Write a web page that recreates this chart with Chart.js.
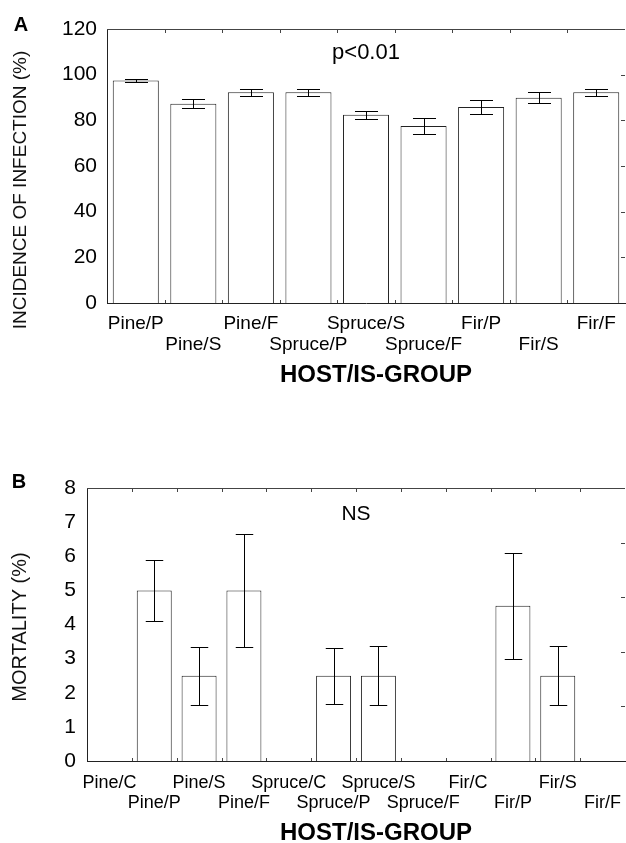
<!DOCTYPE html>
<html>
<head>
<meta charset="utf-8">
<script src="https://cdn.jsdelivr.net/npm/chart.js@4.4.1/dist/chart.umd.min.js"></script>
<style>
  html, body { margin:0; padding:0; background:#fff; overflow:hidden; }
  .panel { position:absolute; left:0; width:626px; height:400px; }
  #boxA { top:0; }
  #boxB { top:455px; }
</style>
</head>
<body>
<div class="panel" id="boxA"><canvas id="chartA"></canvas></div>
<div class="panel" id="boxB"><canvas id="chartB"></canvas></div>
<script>
// panel A: incidence of infection
var groupsA = ["Pine/P", "Pine/S", "Pine/F", "Spruce/P", "Spruce/S", "Spruce/F", "Fir/P", "Fir/S", "Fir/F"];
var incidence = [97.5, 87.3, 92.3, 92.3, 82.5, 77.5, 85.8, 89.9, 92.3];
var incidenceErr = [0.8, 2.1, 1.5, 1.5, 1.7, 3.4, 3.0, 2.5, 1.5];
var yTicksA = [0, 120, 20]; // min, max, step

// panel B: mortality
var groupsB = ["Pine/C", "Pine/P", "Pine/S", "Pine/F", "Spruce/C", "Spruce/P", "Spruce/S", "Spruce/F", "Fir/C", "Fir/P", "Fir/S", "Fir/F"];
var mortality = [0, 5.0, 2.5, 5.0, 0, 2.5, 2.5, 0, 0, 4.55, 2.5, 0];
var mortalityErr = [0, 0.9, 0.85, 1.65, 0, 0.82, 0.87, 0, 0, 1.55, 0.87, 0];
var yTicksB = [0, 8, 1];

var FONT = "'Liberation Sans', Arial, Helvetica, sans-serif";
var INK = "#222";

// error bars, drawn from each bar element
var errorBars = {
  id: 'errorBars',
  afterDatasetsDraw: function(chart) {
    var ctx = chart.ctx, y = chart.scales.y;
    var ds = chart.data.datasets[0];
    var bars = chart.getDatasetMeta(0).data;
    ctx.save();
    ctx.strokeStyle = "#000";
    ctx.lineWidth = 1;
    for (var i = 0; i < bars.length; i++) {
      var e = ds.errors[i];
      if (!e) continue;
      var v = ds.data[i];
      var x = Math.round(bars[i].x) + 0.5;
      var cap = bars[i].width / 4;
      var y1 = Math.round(y.getPixelForValue(v + e)) + 0.5;
      var y2 = Math.round(y.getPixelForValue(v - e)) + 0.5;
      ctx.beginPath();
      ctx.moveTo(x, y1); ctx.lineTo(x, y2);
      ctx.moveTo(x - cap, y1); ctx.lineTo(x + cap, y1);
      ctx.moveTo(x - cap, y2); ctx.lineTo(x + cap, y2);
      ctx.stroke();
    }
    ctx.restore();
  }
};

// top spine, small inner ticks, panel letter, axis titles and test note
var frame = {
  id: 'frame',
  afterDraw: function(chart, args, opts) {
    var ctx = chart.ctx, a = chart.chartArea;
    var xs = chart.scales.x, ys = chart.scales.y;
    ctx.save();
    ctx.strokeStyle = "#444";
    ctx.lineWidth = 1;
    ctx.beginPath();
    ctx.moveTo(a.left, a.top + 0.5);
    ctx.lineTo(a.right, a.top + 0.5);
    for (var i = 1; i < chart.data.labels.length; i++) {
      var px = Math.round(xs.getPixelForValue(i - 0.5)) + 0.5;
      ctx.moveTo(px, a.top); ctx.lineTo(px, a.top + 4);
      ctx.moveTo(px, a.bottom); ctx.lineTo(px, a.bottom - 3);
    }
    for (var v = opts.rightStep; v < ys.max; v += opts.rightStep) {
      var py = Math.round(ys.getPixelForValue(v)) + 0.5;
      ctx.moveTo(a.right, py); ctx.lineTo(a.right - 4, py);
    }
    ctx.stroke();

    ctx.fillStyle = "#000";
    ctx.textAlign = "center";
    ctx.textBaseline = "middle";
    ctx.font = "bold 20px " + FONT;
    ctx.fillText(opts.letter, opts.letterX, opts.letterY);
    ctx.font = "bold 24px " + FONT;
    ctx.fillText(opts.xTitle, opts.xTitleX, opts.xTitleY);
    ctx.font = opts.noteSize + "px " + FONT;
    ctx.fillText(opts.note, (a.left + a.right) / 2, opts.noteY);

    ctx.fillStyle = "#111";
    ctx.font = opts.yTitleSize + "px " + FONT;
    ctx.translate(opts.yTitleX, opts.yTitleY);
    ctx.rotate(-Math.PI / 2);
    ctx.fillText(opts.yTitle, 0, 0);
    ctx.restore();
  }
};

function stagger(value, index) {
  var label = this.getLabelForValue(value);
  return index % 2 ? ['', label] : label;
}

function makeChart(id, labels, values, errors, yt, cfg) {
  return new Chart(document.getElementById(id), {
    type: 'bar',
    data: {
      labels: labels,
      datasets: [{
        data: values,
        errors: errors,
        backgroundColor: "#fff",
        borderColor: "#222",
        borderWidth: 1,
        barPercentage: cfg.barPct,
        categoryPercentage: 1
      }]
    },
    options: {
      responsive: true,
      maintainAspectRatio: false,
      animation: false,
      layout: { padding: { top: cfg.top, right: 1, left: 0, bottom: 0 } },
      plugins: {
        legend: { display: false },
        tooltip: { enabled: false },
        frame: cfg.frame
      },
      scales: {
        x: {
          grid: { display: false },
          border: { display: true, color: INK, width: 1 },
          ticks: {
            autoSkip: false, maxRotation: 0, minRotation: 0,
            color: "#000", padding: cfg.xPad,
            font: { family: FONT, size: cfg.xSize, lineHeight: 1.1 },
            callback: stagger
          },
          afterFit: function(s) {
            s.height = cfg.xHeight;
            s.paddingLeft = 0;
            s.paddingRight = 0;
          }
        },
        y: {
          min: yt[0], max: yt[1],
          grid: { display: false },
          border: { display: true, color: INK, width: 1 },
          ticks: {
            stepSize: yt[2], color: "#000", padding: cfg.yPad,
            font: { family: FONT, size: 21 }
          },
          afterFit: function(s) {
            s.width = cfg.yWidth;
            s.paddingTop = 0;
            s.paddingBottom = 0;
          }
        }
      }
    },
    plugins: [errorBars, frame]
  });
}

makeChart('chartA', groupsA, incidence, incidenceErr, yTicksA, {
  top: 29, yWidth: 107, xHeight: 97, xPad: 2, yPad: 2, xSize: 19,
  barPct: 0.8,
  frame: { rightStep: 20, letter: "A", letterX: 21, letterY: 25, note: "p<0.01", noteSize: 22, noteY: 53,
           xTitle: "HOST/IS-GROUP", xTitleX: 376, xTitleY: 375,
           yTitle: "INCIDENCE OF INFECTION (%)", yTitleSize: 19, yTitleX: 21, yTitleY: 190 }
});

makeChart('chartB', groupsB, mortality, mortalityErr, yTicksB, {
  top: 33, yWidth: 87, xHeight: 94, xPad: 4, yPad: 3, xSize: 18,
  barPct: 0.78,
  frame: { rightStep: 1.6, letter: "B", letterX: 19, letterY: 27, note: "NS", noteSize: 21, noteY: 59,
           xTitle: "HOST/IS-GROUP", xTitleX: 376, xTitleY: 378,
           yTitle: "MORTALITY (%)", yTitleSize: 20, yTitleX: 20, yTitleY: 172 }
});
</script>
</body>
</html>
